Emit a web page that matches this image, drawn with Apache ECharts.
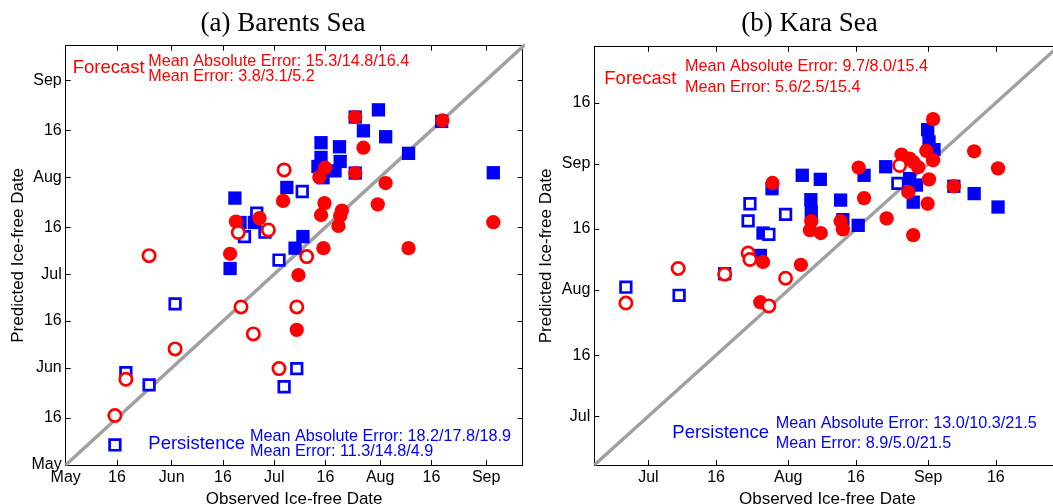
<!DOCTYPE html>
<html><head><meta charset="utf-8">
<script src="https://cdn.jsdelivr.net/npm/echarts@6/dist/echarts.min.js"></script>
<style>html,body{margin:0;padding:0;background:#fff}#c{width:1053px;height:504px}</style>
</head><body><div id="c"></div>
<script>
const SANS = '"Liberation Sans", Arial, Helvetica, sans-serif';
const SERIF = '"Liberation Serif", "Times New Roman", serif';

// Day-of-year tick positions and labels
const barentsTicks = [121, 136, 152, 167, 182, 197, 213, 228, 244];
const barentsTickLabels = ['May', '16', 'Jun', '16', 'Jul', '16', 'Aug', '16', 'Sep'];
const karaTicks = [182, 197, 213, 228, 244, 259];
const karaTickLabels = ['Jul', '16', 'Aug', '16', 'Sep', '16'];

// (a) Barents Sea: [observed day-of-year, predicted day-of-year]
const barentsPersFilled = [[170.5,206.3],[169.1,183.8],[172.0,198.5],[176.2,198.5],[185.7,209.7],[195.7,224.0],[201.1,222.7],[195.7,219.3],[201.3,218.0],[194.8,216.4],[199.8,215.0],[196.3,212.8],[205.7,232.2],[205.7,214.3],[208.1,227.8],[212.5,234.5],[214.6,225.9],[221.3,220.6],[231.0,230.8],[246.1,214.4],[190.4,194.0],[188.1,190.3]];
const barentsPersOpen = [[138.6,150.5],[145.4,146.6],[135.4,127.4],[153.0,172.5],[183.4,186.5],[190.2,208.4],[184.9,146.0],[188.6,151.8],[176.9,201.5],[173.3,194.0],[179.3,195.4]];
const barentsFcstFilled = [[170.8,198.8],[169.1,188.5],[177.7,199.9],[184.6,205.4],[195.2,213.0],[196.9,216.0],[196.7,204.7],[195.7,200.9],[196.4,190.3],[200.8,197.4],[201.8,202.3],[201.3,200.6],[205.7,232.2],[205.7,214.3],[208.1,222.4],[212.3,204.3],[214.6,211.1],[221.3,190.3],[231.2,231.1],[246.1,198.6],[189.1,181.7],[188.6,164.2]];
const barentsFcstOpen = [[135.4,136.8],[138.6,148.4],[145.4,187.9],[153.0,158.1],[171.5,195.3],[172.3,171.5],[175.9,162.9],[180.3,196.1],[183.4,151.8],[184.9,215.3],[188.6,171.5],[191.5,187.6]];

// (b) Kara Sea
const karaPersFilled = [[209.4,237.9],[216.1,241.2],[220.1,240.2],[218.0,235.2],[218.1,232.2],[224.6,235.1],[225.1,230.3],[228.5,228.9],[229.8,241.2],[234.6,243.3],[243.9,252.4],[244.2,249.4],[245.3,247.5],[239.9,240.4],[241.4,238.8],[240.7,234.6],[249.7,238.5],[254.2,236.7],[259.5,233.4],[207.4,227.0],[206.8,221.5],[198.9,217.0]];
const karaPersOpen = [[177.0,213.7],[188.8,211.7],[204.5,234.2],[204.1,230.0],[208.7,226.7],[212.4,231.6],[237.3,239.2]];
const karaFcstFilled = [[209.5,239.3],[207.4,219.9],[215.8,219.2],[206.8,210.0],[218.1,229.9],[217.8,227.7],[220.2,227.0],[224.6,229.9],[225.1,227.9],[228.6,243.1],[229.8,235.6],[234.8,230.6],[238.1,246.3],[239.9,245.3],[240.7,244.5],[241.8,243.2],[239.6,237.1],[243.6,247.2],[245.1,244.9],[245.1,255.0],[244.2,240.2],[243.9,234.2],[240.7,226.5],[249.7,238.5],[254.2,247.1],[259.5,242.9]];
const karaFcstOpen = [[177.0,209.8],[188.6,218.3],[198.9,216.9],[204.1,222.1],[204.5,220.5],[212.4,215.9],[208.7,209.1],[237.7,243.6]];

const panels = [
  {title:'(a) Barents Sea', grid:{left:65.7, top:45.7, width:457, height:419.3}, xmin:121, xmax:254.7, ymin:121, ymax:255,
   ticks:barentsTicks, labels:barentsTickLabels, pf:barentsPersFilled, po:barentsPersOpen, ff:barentsFcstFilled, fo:barentsFcstOpen},
  {title:'(b) Kara Sea', grid:{left:594.3, top:46.7, width:466, height:418.3}, xmin:170, xmax:273.3, ymin:170, ymax:272.8,
   ticks:karaTicks, labels:karaTickLabels, pf:karaPersFilled, po:karaPersOpen, ff:karaFcstFilled, fo:karaFcstOpen}
];

const xAxes = [], yAxes = [], grids = [], series = [];
const nameStyle = {color:'#000', fontSize:17, fontFamily:SANS};
panels.forEach((p, gi) => {
  grids.push(Object.assign({outerBoundsMode:'none', containLabel:false}, p.grid));
  const fmt = v => { const i = p.ticks.indexOf(Math.round(v)); return i >= 0 ? p.labels[i] : ''; };
  const base = (min, max, pos, showLabel) => ({
    type:'value', gridIndex:gi, min, max, position:pos,
    axisLine:{show:true, onZero:false, lineStyle:{color:'#000', width:1}},
    axisTick:{show:true, inside:true, length:5, customValues:p.ticks, lineStyle:{color:'#000', width:1}},
    axisLabel:{show:showLabel, customValues:p.ticks, formatter:fmt, color:'#000', fontSize:16, fontFamily:SANS, margin:showLabel ? (pos==='bottom'?5:4) : 8},
    splitLine:{show:false}
  });
  const xb = base(p.xmin, p.xmax, 'bottom', true);
  Object.assign(xb, {name:'Observed Ice-free Date', nameLocation:'middle', nameGap:23, nameTextStyle:nameStyle});
  const xt = base(p.xmin, p.xmax, 'top', false);
  const yl = base(p.ymin, p.ymax, 'left', true);
  Object.assign(yl, {name:'Predicted Ice-free Date', nameLocation:'middle', nameGap:39, nameTextStyle:nameStyle});
  const yr = base(p.ymin, p.ymax, 'right', false);
  xAxes.push(xb, xt); yAxes.push(yl, yr);
  const xi = gi * 2, yi = gi * 2;
  series.push({type:'line', xAxisIndex:xi, yAxisIndex:yi, data:[[p.xmin, p.xmin],[300,300]], symbol:'none', silent:true, clip:true,
    lineStyle:{color:'#a0a0a0', width:3.5}, z:1});
  series.push({type:'scatter', name:'Persistence', xAxisIndex:xi, yAxisIndex:yi, data:p.pf, symbol:'rect', symbolSize:13.3,
    itemStyle:{color:'#0000ff', opacity:1}, z:2});
  series.push({type:'scatter', name:'Persistence (open)', xAxisIndex:xi, yAxisIndex:yi, data:p.po, symbol:'rect', symbolSize:10.6,
    itemStyle:{color:'#ffffff', borderColor:'#0000ff', borderWidth:2.7, opacity:1}, z:3});
  series.push({type:'scatter', name:'Forecast', xAxisIndex:xi, yAxisIndex:yi, data:p.ff, symbol:'circle', symbolSize:14.3,
    itemStyle:{color:'#ff0000', opacity:1}, z:4});
  series.push({type:'scatter', name:'Forecast (open)', xAxisIndex:xi, yAxisIndex:yi, data:p.fo, symbol:'circle', symbolSize:12.3,
    itemStyle:{color:'#ffffff', borderColor:'#ff0000', borderWidth:2.7, opacity:1}, z:5});
});

function txt(t, x, baseline, fs, color){
  return {type:'text', x:x, y:baseline - 0.3465*fs, silent:true, z:100,
    style:{text:t, fill:color, fontSize:fs, fontFamily:SANS, align:'left', verticalAlign:'middle'}};
}
const RED = '#ff0000', BLUE = '#0000ff';
const graphics = [
  txt('Forecast', 72.7, 74, 18.5, RED),
  txt('Mean Absolute Error: 15.3/14.8/16.4', 148.3, 67.3, 16.2, RED),
  txt('Mean Error: 3.8/3.1/5.2', 148.3, 82.5, 16.2, RED),
  txt('Persistence', 148.3, 450.7, 18.5, BLUE),
  txt('Mean Absolute Error: 18.2/17.8/18.9', 250, 442, 16.2, BLUE),
  txt('Mean Error: 11.3/14.8/4.9', 250, 456.7, 16.2, BLUE),
  txt('Forecast', 604.3, 85, 18.5, RED),
  txt('Mean Absolute Error: 9.7/8.0/15.4', 685, 72.5, 16.2, RED),
  txt('Mean Error: 5.6/2.5/15.4', 685, 92.7, 16.2, RED),
  txt('Persistence', 672.3, 439.3, 18.5, BLUE),
  txt('Mean Absolute Error: 13.0/10.3/21.5', 775.7, 429, 16.2, BLUE),
  txt('Mean Error: 8.9/5.0/21.5', 775.7, 449.3, 16.2, BLUE)
];

const chart = echarts.init(document.getElementById('c'), null, {renderer:'canvas'});
chart.setOption({
  animation:false,
  backgroundColor:'#fff',
  title:[
    {text:panels[0].title, left:278, top:5, textAlign:'center', textStyle:{fontFamily:SERIF, fontSize:27, fontWeight:'normal', color:'#000'}},
    {text:panels[1].title, left:804.5, top:5, textAlign:'center', textStyle:{fontFamily:SERIF, fontSize:27, fontWeight:'normal', color:'#000'}}
  ],
  grid:grids, xAxis:xAxes, yAxis:yAxes, series:series, graphic:graphics
});
</script></body></html>
